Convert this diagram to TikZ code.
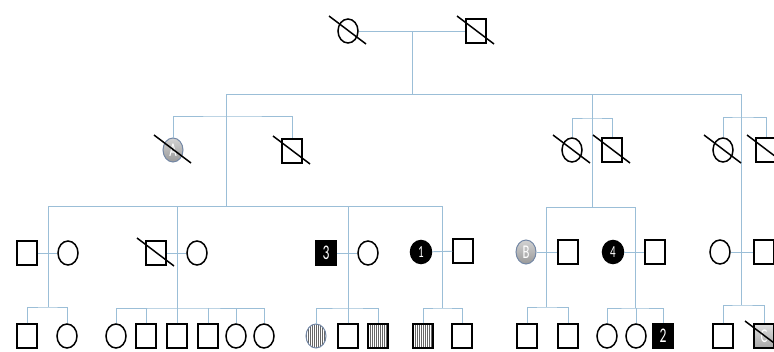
\documentclass[tikz,border=0pt]{standalone}
\usepackage{fontspec}
\newfontfamily\numfont{Carlito}
\usetikzlibrary{shapes.geometric}
\definecolor{lineblue}{RGB}{155,190,215}
\definecolor{ringgray}{RGB}{115,135,165}
\newcommand{\pednum}[1]{\scalebox{0.85}[1.3]{\numfont #1}}
\begin{document}
\begin{tikzpicture}[x=1pt,y=-1pt,
 sq/.style={draw,line width=1.5pt,rectangle,minimum width=20pt,minimum height=24pt,inner sep=0pt,fill=white},
 ci/.style={draw,line width=1.5pt,ellipse,minimum width=20pt,minimum height=24pt,inner sep=0pt,fill=white},
 aff/.style={fill=black,text=white,font=\fontsize{16}{16}\selectfont},
 grayball/.style={draw=ringgray,line width=1pt,top color=gray!35,bottom color=gray!80,text=white,font=\fontsize{15}{15}\selectfont},
 graysq/.style={top color=gray!25,bottom color=gray!70,text=white,font=\fontsize{15}{15}\selectfont},
 striped/.style={path picture={
   \foreach \k in {-12,-10,...,12}
     \draw[black!60,line width=0.9pt] ([xshift=\k pt]path picture bounding box.north) -- ([xshift=\k pt]path picture bounding box.south);}},
 lnk/.style={draw=lineblue,line width=0.9pt},
 strike/.style={draw=black,line width=1.5pt}]
\clip (0,0) rectangle (774,351);
\fill[white] (0,0) rectangle (774,351);

% ---------- coordinates for connectors ----------
\coordinate (g1c) at (412,31);
\coordinate (g1d) at (412,94);
\coordinate (s1L) at (226,94);
\coordinate (s1R) at (741,94);
\coordinate (s1Rb) at (741,305);
\coordinate (s1M) at (592,94);
\coordinate (s2L) at (226,206);
\coordinate (b2a) at (232,116);
\coordinate (b2b) at (592,118);
\coordinate (b2c) at (741,117);
\coordinate (r3L) at (48,206);
\coordinate (r3R) at (442,206);
\coordinate (r3b) at (177,206);
\coordinate (r3c) at (348,206);
\coordinate (q3L) at (546,207);
\coordinate (q3R) at (635,207);
\coordinate (q3M) at (592,207);
\coordinate (c4a) at (48,307);
\coordinate (c4b) at (177,308);
\coordinate (c4c) at (348,308);
\coordinate (c4d) at (442,308);
\coordinate (c4e) at (546,307);
\coordinate (c4f) at (635,308);

% ---------- Generation I ----------
\node[ci] (g1f) at (348,31) {};
\node[sq] (g1m) at (476,31) {};

% ---------- Generation II ----------
\node[ellipse,grayball,minimum width=20pt,minimum height=24pt,inner sep=0pt] (A) at (173,150) {\pednum{A}};
\node[sq] (g2m1) at (292,151) {};
\node[ci] (g2f2) at (572,150) {};
\node[sq] (g2m2) at (612,150) {};
\node[ci] (g2f3) at (723,150) {};
\node[sq] (g2m3) at (766,150) {};

% ---------- Generation III ----------
\node[sq] (g3m1) at (27,253) {};
\node[ci] (g3f1) at (68,253) {};
\node[sq] (g3m2) at (156,253) {};
\node[ci] (g3f2) at (197,253) {};
\node[sq,aff] (g3m3) at (326,253) {\pednum{3}};
\node[ci] (g3f3) at (368,253) {};
\node[ci,aff,minimum width=21pt,minimum height=23pt,font=\fontsize{13}{13}\selectfont] (g3f4) at (421,252) {\pednum{1}};
\node[sq] (g3m4) at (463,251) {};
\node[ellipse,grayball,minimum width=20pt,minimum height=24pt,inner sep=0pt] (B) at (526,252) {\pednum{B}};
\node[sq] (g3m5) at (568,252) {};
\node[ci,aff,minimum width=21pt,minimum height=23pt,font=\fontsize{13}{13}\selectfont] (g3f6) at (613,252) {\pednum{4}};
\node[sq] (g3m6) at (655,252) {};
\node[ci] (g3f7) at (720,252) {};
\node[sq] (g3m7) at (764,252) {};

% ---------- Generation IV ----------
\node[sq] (d11) at (27,336) {};
\node[ci] (d12) at (67,336) {};
\node[ci] (d21) at (116,336) {};
\node[sq] (d22) at (146,336) {};
\node[sq] (d23) at (177,336) {};
\node[sq] (d24) at (208,336) {};
\node[ci] (d25) at (236,336) {};
\node[ci] (d26) at (264,336) {};
\node[ellipse,fill=white,striped,draw=ringgray,line width=1pt,minimum width=20pt,minimum height=24pt,inner sep=0pt] (d31) at (316,336) {};
\node[sq] (d32) at (348,336) {};
\node[sq,striped] (d33) at (378,336) {};
\node[sq,striped] (d41) at (423,336) {};
\node[sq] (d42) at (462,336) {};
\node[sq] (d51) at (527,336) {};
\node[sq] (d52) at (568,336) {};
\node[ci] (d61) at (607,336) {};
\node[ci] (d62) at (636,336) {};
\node[sq,aff] (d63) at (663,336) {\pednum{2}};
\node[sq] (d71) at (723,336) {};
\node[sq,graysq] (d72) at (764,336) {\pednum{C}};

% ---------- connectors ----------
\draw[lnk] (g1f) -- (g1m);
\draw[lnk] (g1c) -- (g1d);
\draw[lnk] (s2L) -- (s1L) -- (s1R) -- (s1Rb);
\draw[lnk] (s1M) -- (q3M);
\draw[lnk] (A.north) |- (b2a) -| (g2m1.north);
\draw[lnk] (g2f2.north) |- (b2b) -| (g2m2.north);
\draw[lnk] (g2f3.north) |- (b2c) -| (g2m3.north);

\draw[lnk] (r3L) -- (r3R);
\draw[lnk] (r3L) -- (c4a);
\draw[lnk] (r3b) -- (c4b);
\draw[lnk] (r3c) -- (c4c);
\draw[lnk] (r3R) -- (c4d);
\draw[lnk] (q3L) -- (q3R);
\draw[lnk] (q3L) -- (c4e);
\draw[lnk] (q3R) -- (c4f);

\draw[lnk] (g3m1) -- (g3f1);
\draw[lnk] (g3m2) -- (g3f2);
\draw[lnk] (g3m3) -- (g3f3);
\draw[lnk] (g3f4) -- (g3m4);
\draw[lnk] (B) -- (g3m5);
\draw[lnk] (g3f6) -- (g3m6);
\draw[lnk] (g3f7) -- (g3m7);

\draw[lnk] (d11.north) |- (c4a) -| (d12.north);
\draw[lnk] (d21.north) |- (c4b) -| (d26.north);
\draw[lnk] (d22.north) -- (d22.north |- c4b);
\draw[lnk] (d23.north) -- (c4b);
\draw[lnk] (d24.north) -- (d24.north |- c4b);
\draw[lnk] (d25.north) -- (d25.north |- c4b);
\draw[lnk] (d31.north) |- (c4c) -| (d33.north);
\draw[lnk] (d32.north) -- (c4c);
\draw[lnk] (d41.north) |- (c4d) -| (d42.north);
\draw[lnk] (d51.north) |- (c4e) -| (d52.north);
\draw[lnk] (d61.north) |- (c4f) -| (d63.north);
\draw[lnk] (d62.north) -- (d62.north |- c4f);
\draw[lnk] (d71.north) |- (s1Rb) -| (d72.north);

% ---------- deceased strikes ----------
\foreach \n in {g1f,g1m,A,g2m1,g2f2,g2m2,g2f3,g2m3,g3m2,d72}
  \draw[strike] ([shift={(-19,-15)}]\n.center) -- ([shift={(18,13)}]\n.center);
\end{tikzpicture}
\end{document}
